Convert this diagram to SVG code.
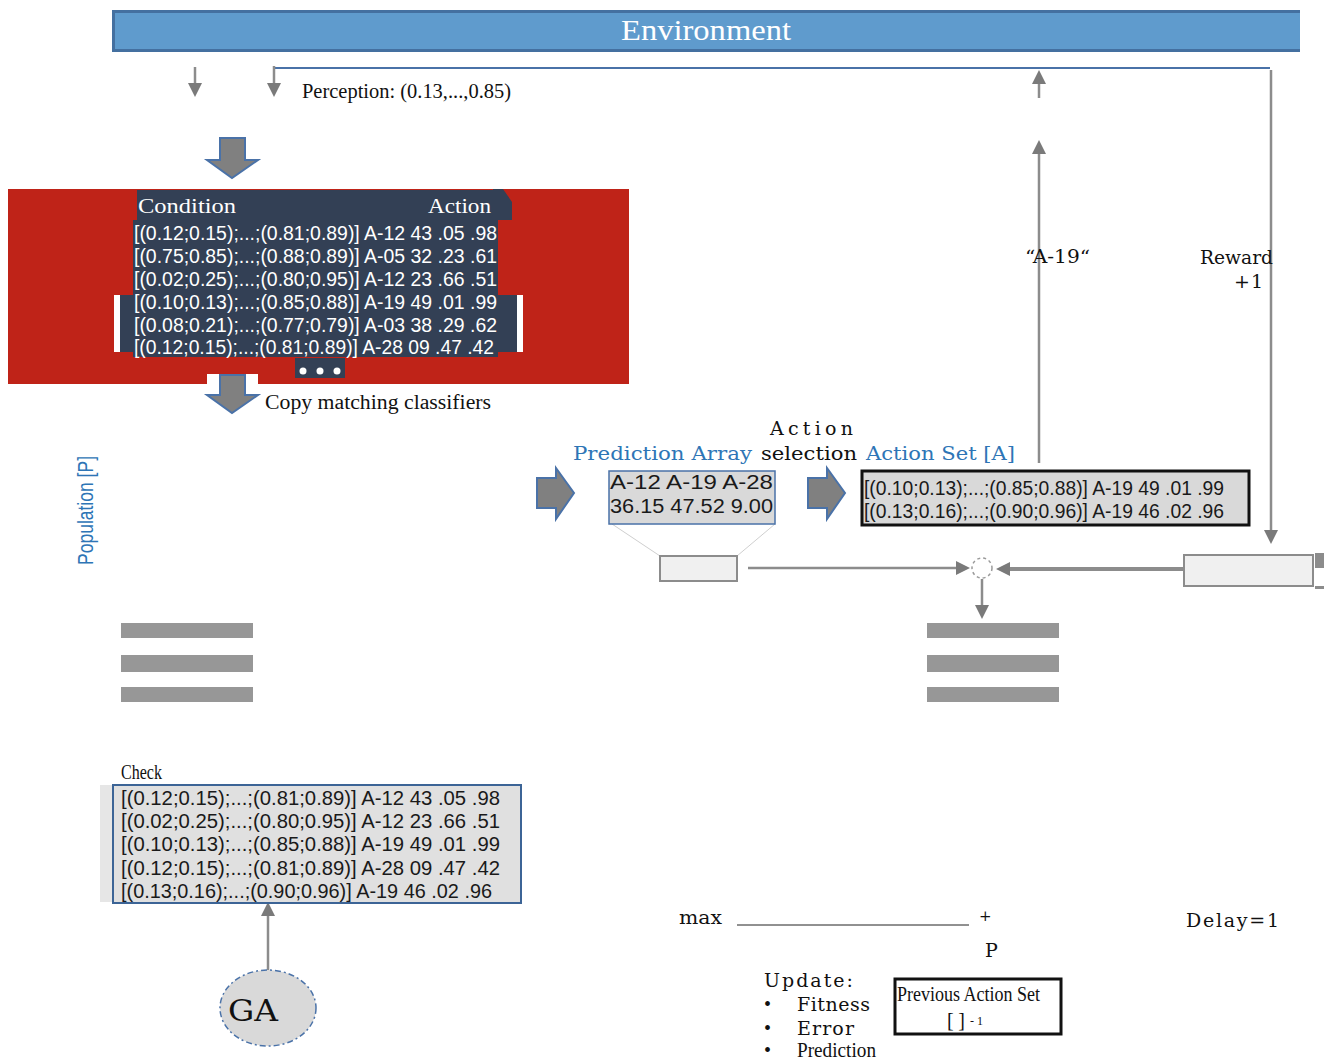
<svg xmlns="http://www.w3.org/2000/svg" width="1326" height="1060" viewBox="0 0 1326 1060">
<style>
.serif{font-family:"Liberation Serif","DejaVu Serif",serif;}
.sans{font-family:"Liberation Sans",Arial,sans-serif;}
.row{font-family:"Liberation Sans",Arial,sans-serif;font-size:20px;fill:#ffffff;}
.rowd{font-family:"Liberation Sans",Arial,sans-serif;font-size:20px;fill:#1a1a1a;}
.lbl{font-family:"Liberation Serif","DejaVu Serif",serif;font-size:20px;fill:#111;}
.lbl2{font-family:"DejaVu Serif","Liberation Serif",serif;font-size:19px;fill:#111;}
.blue{fill:#2e75b6;}
.bar{fill:#979797;}
.blk{fill:#808080;stroke:#4a72a8;stroke-width:2;}
.conn{stroke:#8c8c8c;stroke-width:2.5;fill:none;}
</style>
<defs>
<marker id="ahl" markerWidth="14" markerHeight="14" refX="10" refY="7" orient="auto" markerUnits="userSpaceOnUse">
<path d="M0,0 L14,7 L0,14 z" fill="#7a7a7a"/>
</marker>
</defs>

<rect width="1326" height="1060" fill="#ffffff"/>

<g id="environment">
<rect x="112" y="10" width="1188" height="42" fill="#5f9bcd"/>
<rect x="112" y="10" width="1188" height="3" fill="#4470a0"/>
<rect x="112" y="49" width="1188" height="3" fill="#4470a0"/>
<rect x="112" y="10" width="3" height="42" fill="#4470a0"/>
<text x="621" y="40" class="serif" font-size="30" fill="#ffffff" textLength="170" lengthAdjust="spacingAndGlyphs">Environment</text>
</g>

<g id="connectors">
<line x1="273" y1="68" x2="1270" y2="68" stroke="#4a72a8" stroke-width="2"/>
<line x1="195" y1="67" x2="195" y2="93" class="conn" marker-end="url(#ahl)"/>
<line x1="274" y1="66" x2="274" y2="93" class="conn" marker-end="url(#ahl)"/>
<line x1="1039" y1="98" x2="1039" y2="74" class="conn" marker-end="url(#ahl)"/>
<line x1="1039" y1="463" x2="1039" y2="144" class="conn" marker-end="url(#ahl)"/>
<line x1="1271" y1="70" x2="1271" y2="540" class="conn" marker-end="url(#ahl)"/>
<line x1="612" y1="524" x2="660" y2="556" stroke="#cfcfcf" stroke-width="1"/>
<line x1="775" y1="524" x2="737" y2="556" stroke="#cfcfcf" stroke-width="1"/>
<line x1="748" y1="568" x2="966" y2="568" class="conn" marker-end="url(#ahl)"/>
<line x1="1184" y1="569" x2="1000" y2="569" stroke="#8c8c8c" stroke-width="4" marker-end="url(#ahl)"/>
<line x1="982" y1="579" x2="982" y2="615" class="conn" marker-end="url(#ahl)"/>
<line x1="268" y1="970" x2="268" y2="906" class="conn" marker-end="url(#ahl)"/>
<circle cx="982" cy="568" r="10" fill="none" stroke="#9a9a9a" stroke-width="1.5" stroke-dasharray="3,3"/>
</g>

<g id="perception-label">
<text x="302" y="98" class="lbl" textLength="209" lengthAdjust="spacingAndGlyphs">Perception: (0.13,...,0.85)</text>
</g>

<g id="arrow-in">
<path d="M220,138 L245,138 L245,160 L258,160 L232,178 L207,160 L220,160 Z" class="blk"/>
</g>

<g id="population">
<rect x="8" y="189" width="621" height="195" fill="#bf2318"/>
<rect x="137" y="190" width="356" height="30" fill="#334055"/>
<path d="M493,189 L503,189 L512,202 L512,220 L493,220 Z" fill="#334055"/>
<rect x="133" y="220" width="365" height="137" fill="#334055"/>
<rect x="114" y="295" width="409" height="57" fill="#ffffff"/>
<rect x="120" y="295" width="397" height="57" fill="#334055"/>
<rect x="295" y="358" width="50" height="20" fill="#334055"/>
<circle cx="303" cy="371" r="3.5" fill="#fff"/>
<circle cx="320" cy="371" r="3.5" fill="#fff"/>
<circle cx="337" cy="371" r="3.5" fill="#fff"/>
<text x="138" y="213" class="serif" font-size="20" fill="#ffffff" textLength="98" lengthAdjust="spacingAndGlyphs">Condition</text>
<text x="428" y="213" class="serif" font-size="20" fill="#ffffff" textLength="63" lengthAdjust="spacingAndGlyphs">Action</text>
<text x="134" y="240" class="row" textLength="363" lengthAdjust="spacingAndGlyphs">[(0.12;0.15);...;(0.81;0.89)] A-12 43 .05 .98</text>
<text x="134" y="263" class="row" textLength="363" lengthAdjust="spacingAndGlyphs">[(0.75;0.85);...;(0.88;0.89)] A-05 32 .23 .61</text>
<text x="134" y="286" class="row" textLength="363" lengthAdjust="spacingAndGlyphs">[(0.02;0.25);...;(0.80;0.95)] A-12 23 .66 .51</text>
<text x="134" y="309" class="row" textLength="363" lengthAdjust="spacingAndGlyphs">[(0.10;0.13);...;(0.85;0.88)] A-19 49 .01 .99</text>
<text x="134" y="332" class="row" textLength="363" lengthAdjust="spacingAndGlyphs">[(0.08;0.21);...;(0.77;0.79)] A-03 38 .29 .62</text>
<text x="134" y="354" class="row" textLength="360" lengthAdjust="spacingAndGlyphs">[(0.12;0.15);...;(0.81;0.89)] A-28 09 .47 .42</text>
</g>

<g id="copy-arrow">
<rect x="207" y="374" width="51" height="10" fill="#ffffff"/>
<path d="M220,375 L245,375 L245,395 L258,395 L232,413 L207,395 L220,395 Z" class="blk"/>
<text x="265" y="409" class="lbl" textLength="226" lengthAdjust="spacingAndGlyphs">Copy matching classifiers</text>
</g>

<g id="population-label">
<text transform="translate(93,565) rotate(-90)" x="0" y="0" class="sans blue" font-size="22" textLength="109" lengthAdjust="spacingAndGlyphs">Population [P]</text>
</g>

<g id="match-set-bars">
<rect x="121" y="623" width="132" height="15" class="bar"/>
<rect x="121" y="655" width="132" height="17" class="bar"/>
<rect x="121" y="687" width="132" height="15" class="bar"/>
</g>

<g id="action-set-bars">
<rect x="927" y="623" width="132" height="15" class="bar"/>
<rect x="927" y="655" width="132" height="17" class="bar"/>
<rect x="927" y="687" width="132" height="15" class="bar"/>
</g>

<g id="arrow-to-prediction">
<path d="M537,478 L556,478 L556,468 L574,493 L556,519 L556,508 L537,508 Z" class="blk"/>
</g>

<g id="prediction-array">
<rect x="609" y="471" width="166" height="53" fill="#d9d9d9" stroke="#4a72a8" stroke-width="1.5"/>
<text x="610" y="489" class="rowd" textLength="163" lengthAdjust="spacingAndGlyphs">A-12 A-19 A-28</text>
<text x="610" y="513" class="rowd" textLength="163" lengthAdjust="spacingAndGlyphs">36.15 47.52 9.00</text>
</g>

<g id="labels-middle">
<text x="770" y="435" class="lbl2" textLength="83" lengthAdjust="spacing">Action</text>
<text x="573" y="460" class="lbl2 blue" textLength="179" lengthAdjust="spacingAndGlyphs">Prediction Array</text>
<text x="761" y="460" class="lbl2" textLength="96" lengthAdjust="spacingAndGlyphs">selection</text>
<text x="866" y="460" class="lbl2 blue" textLength="149" lengthAdjust="spacingAndGlyphs">Action Set [A]</text>
</g>

<g id="arrow-to-action-set">
<path d="M808,478 L827,478 L827,468 L845,493 L827,519 L827,508 L808,508 Z" class="blk"/>
</g>

<g id="action-set">
<rect x="862" y="471" width="387" height="54" fill="#d9d9d9" stroke="#111" stroke-width="3"/>
<text x="864" y="495" class="rowd" textLength="360" lengthAdjust="spacingAndGlyphs">[(0.10;0.13);...;(0.85;0.88)] A-19 49 .01 .99</text>
<text x="864" y="518" class="rowd" textLength="360" lengthAdjust="spacingAndGlyphs">[(0.13;0.16);...;(0.90;0.96)] A-19 46 .02 .96</text>
</g>

<g id="action-label">
<text x="1025" y="263" class="lbl2" textLength="65" lengthAdjust="spacingAndGlyphs">“A-19“</text>
</g>

<g id="reward-label">
<text x="1200" y="264" class="lbl2" textLength="73" lengthAdjust="spacingAndGlyphs">Reward</text>
<text x="1234" y="288" class="lbl2" textLength="29" lengthAdjust="spacing">+ 1</text>
</g>

<g id="max-box">
<rect x="660" y="556" width="77" height="25" fill="#f0f0f0" stroke="#8c8c8c" stroke-width="2"/>
</g>

<g id="reward-box">
<rect x="1184" y="555" width="129" height="31" fill="#f0f0f0" stroke="#8c8c8c" stroke-width="2"/>
<rect x="1315" y="553" width="9" height="15" fill="#8c8c8c"/>
<rect x="1315" y="586" width="9" height="3" fill="#8c8c8c"/>
</g>

<g id="check-set">
<rect x="100" y="785" width="14" height="117" fill="#e6e6e6"/>
<rect x="113" y="785" width="408" height="118" fill="#e0e0e0" stroke="#3c6496" stroke-width="2"/>
<text x="121" y="779" class="lbl" textLength="41" lengthAdjust="spacingAndGlyphs">Check</text>
<text x="121" y="805" class="rowd" textLength="379" lengthAdjust="spacingAndGlyphs">[(0.12;0.15);...;(0.81;0.89)] A-12 43 .05 .98</text>
<text x="121" y="828" class="rowd" textLength="379" lengthAdjust="spacingAndGlyphs">[(0.02;0.25);...;(0.80;0.95)] A-12 23 .66 .51</text>
<text x="121" y="851" class="rowd" textLength="379" lengthAdjust="spacingAndGlyphs">[(0.10;0.13);...;(0.85;0.88)] A-19 49 .01 .99</text>
<text x="121" y="875" class="rowd" textLength="379" lengthAdjust="spacingAndGlyphs">[(0.12;0.15);...;(0.81;0.89)] A-28 09 .47 .42</text>
<text x="121" y="898" class="rowd" textLength="371" lengthAdjust="spacingAndGlyphs">[(0.13;0.16);...;(0.90;0.96)] A-19 46 .02 .96</text>
</g>

<g id="ga">
<ellipse cx="268" cy="1008" rx="48" ry="38" fill="#d9d9d9" stroke="#4a72a8" stroke-width="1.5" stroke-dasharray="6,3,2,3"/>
<text x="228" y="1021" class="lbl2" style="font-size:30px" textLength="50" lengthAdjust="spacingAndGlyphs">GA</text>
</g>

<g id="formula">
<text x="679" y="924" class="lbl2" textLength="43" lengthAdjust="spacingAndGlyphs">max</text>
<line x1="737" y1="925" x2="969" y2="925" stroke="#222" stroke-width="1"/>
<text x="979" y="921" class="lbl2" style="font-size:15px">+</text>
<text x="985" y="957" class="lbl2">P</text>
<text x="1186" y="927" class="lbl2" textLength="93" lengthAdjust="spacing">Delay=1</text>
</g>

<g id="update">
<text x="764" y="987" class="lbl2" textLength="89" lengthAdjust="spacing">Update:</text>
<text x="764" y="1011" class="lbl">•</text>
<text x="797" y="1011" class="lbl2" textLength="73" lengthAdjust="spacing">Fitness</text>
<text x="764" y="1035" class="lbl">•</text>
<text x="797" y="1035" class="lbl2" textLength="57" lengthAdjust="spacing">Error</text>
<text x="764" y="1057" class="lbl">•</text>
<text x="797" y="1057" class="lbl" textLength="79" lengthAdjust="spacingAndGlyphs">Prediction</text>
</g>

<g id="previous-action-set">
<rect x="895" y="979" width="166" height="55" fill="#ffffff" stroke="#111" stroke-width="3"/>
<text x="897" y="1001" class="lbl" textLength="143" lengthAdjust="spacingAndGlyphs">Previous Action Set</text>
<text x="947" y="1027" class="lbl" textLength="18" lengthAdjust="spacing">[ ]</text>
<text x="970" y="1025" class="lbl" style="font-size:12px">- 1</text>
</g>
</svg>
